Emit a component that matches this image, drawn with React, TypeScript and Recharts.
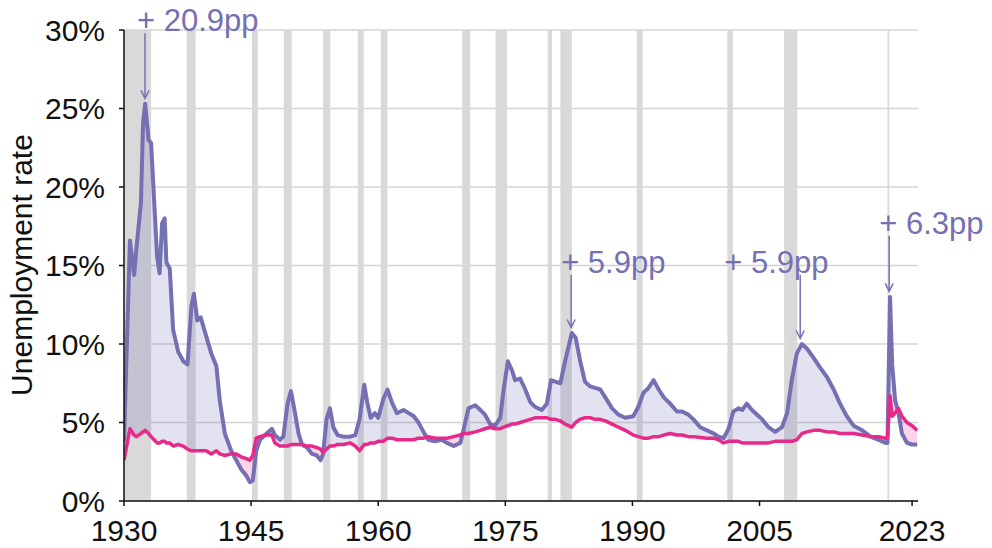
import {
  Area,
  CartesianGrid,
  ComposedChart,
  Line,
  ReferenceArea,
  ReferenceLine,
  XAxis,
  YAxis,
} from "recharts";

// quarterly-ish readings, decimal year
const YEARS = [
  1930.0, 1930.7, 1931.2, 1931.45, 1932.0, 1932.25, 1932.5, 1932.9, 1933.2, 1933.55,
  1933.9, 1934.2, 1934.5, 1934.8, 1935.0, 1935.4, 1935.8, 1936.4, 1937.0, 1937.5,
  1937.95, 1938.25, 1938.65, 1939.05, 1939.7, 1940.3, 1940.9, 1941.3, 1941.9, 1942.65,
  1943.25, 1943.85, 1944.45, 1944.85, 1945.2, 1945.6, 1946.05, 1946.65, 1947.45, 1947.8,
  1948.4, 1948.8, 1949.3, 1949.7, 1950.05, 1950.6, 1951.0, 1951.6, 1952.2, 1952.75,
  1953.2, 1953.5, 1953.9, 1954.3, 1954.7, 1955.2, 1955.9, 1956.7, 1957.3, 1957.8,
  1958.35, 1958.7, 1959.1, 1959.6, 1960.0, 1960.6, 1961.1, 1961.6, 1962.2, 1963.0,
  1963.6, 1964.2, 1964.75, 1965.35, 1965.9, 1966.7, 1967.5, 1968.1, 1968.9, 1969.7,
  1970.05, 1970.65, 1971.45, 1972.05, 1972.6, 1973.2, 1973.8, 1974.4, 1974.8, 1975.3,
  1975.8, 1976.15, 1976.75, 1977.35, 1977.95, 1978.5, 1979.3, 1979.9, 1980.4, 1980.9,
  1981.5, 1982.05, 1982.85, 1983.3, 1983.8, 1984.4, 1985.0, 1985.6, 1986.2, 1986.8,
  1987.6, 1988.35, 1989.15, 1990.1, 1990.7, 1991.3, 1991.9, 1992.5, 1993.1, 1993.7,
  1994.45, 1995.25, 1995.85, 1996.6, 1997.2, 1998.0, 1998.8, 1999.6, 2000.15, 2000.75,
  2001.35, 2001.9, 2002.5, 2002.95, 2003.5, 2004.1, 2004.9, 2005.3, 2006.05, 2006.85,
  2007.65, 2008.25, 2008.8, 2009.4, 2010.0, 2010.6, 2011.4, 2012.15, 2012.95, 2013.75,
  2014.5, 2015.3, 2016.1, 2017.1, 2018.1, 2019.05, 2019.85, 2020.1, 2020.4, 2020.65,
  2021.0, 2021.4, 2021.8, 2022.4, 2023.0, 2023.6,
];

const UNEMP = [
  3.8, 16.6, 14.4, 16.0, 19.0, 24.1, 25.3, 23.0, 22.8, 19.2,
  15.6, 14.5, 17.7, 18.0, 15.2, 14.8, 10.9, 9.5, 8.9, 8.7,
  12.4, 13.2, 11.5, 11.7, 10.5, 9.4, 8.6, 6.4, 4.3, 3.2,
  2.6, 2.0, 1.6, 1.2, 1.3, 3.2, 3.9, 4.2, 4.6, 4.2,
  3.9, 4.1, 6.2, 7.0, 6.0, 4.3, 3.6, 3.4, 3.0, 2.9,
  2.6, 3.0, 5.2, 5.9, 4.7, 4.2, 4.1, 4.1, 4.2, 5.2,
  7.4, 6.3, 5.3, 5.6, 5.3, 6.5, 7.1, 6.3, 5.6, 5.8,
  5.6, 5.4, 5.0, 4.4, 3.9, 3.8, 3.9, 3.7, 3.5, 3.7,
  4.5, 5.9, 6.1, 5.8, 5.5, 4.9, 4.8, 5.3, 7.1, 8.9,
  8.3, 7.7, 7.8, 7.1, 6.3, 6.0, 5.8, 6.2, 7.7, 7.6,
  7.5, 8.9, 10.7, 10.4, 9.0, 7.6, 7.3, 7.2, 7.1, 6.6,
  5.9, 5.5, 5.3, 5.4, 6.0, 6.9, 7.2, 7.7, 7.1, 6.6,
  6.2, 5.7, 5.7, 5.5, 5.2, 4.7, 4.5, 4.3, 4.1, 4.0,
  4.6, 5.7, 5.9, 5.8, 6.2, 5.8, 5.4, 5.2, 4.7, 4.4,
  4.7, 5.6, 7.7, 9.4, 10.0, 9.7, 9.1, 8.5, 7.9, 7.1,
  6.2, 5.4, 4.8, 4.5, 4.1, 3.9, 3.7, 3.7, 13.0, 8.7,
  6.4, 5.6, 4.3, 3.7, 3.6, 3.6,
];

const NATURAL = [
  2.6, 4.6, 4.2, 4.1, 4.3, 4.4, 4.5, 4.3, 4.1, 3.9,
  3.7, 3.7, 3.8, 3.8, 3.7, 3.7, 3.5, 3.6, 3.5, 3.3,
  3.2, 3.2, 3.2, 3.2, 3.2, 3.0, 3.2, 3.0, 2.9, 3.0,
  3.0, 2.8, 2.7, 2.6, 2.9, 4.0, 4.1, 4.2, 4.2, 3.7,
  3.5, 3.5, 3.5, 3.6, 3.6, 3.6, 3.6, 3.5, 3.5, 3.4,
  3.3, 3.1, 3.3, 3.5, 3.5, 3.6, 3.6, 3.7, 3.5, 3.2,
  3.6, 3.6, 3.7, 3.7, 3.8, 3.8, 4.0, 4.0, 3.9, 3.9,
  3.9, 3.9, 4.0, 4.0, 4.1, 4.0, 4.0, 4.0, 4.1, 4.2,
  4.3, 4.3, 4.4, 4.5, 4.6, 4.7, 4.6, 4.6, 4.7, 4.8,
  4.9, 4.9, 5.0, 5.1, 5.2, 5.3, 5.3, 5.3, 5.2, 5.2,
  5.1, 4.9, 4.7, 5.0, 5.2, 5.3, 5.3, 5.2, 5.2, 5.1,
  4.9, 4.7, 4.5, 4.2, 4.1, 4.0, 4.0, 4.1, 4.1, 4.2,
  4.3, 4.2, 4.2, 4.1, 4.1, 4.05, 4.0, 4.0, 3.9, 3.7,
  3.8, 3.8, 3.8, 3.7, 3.7, 3.7, 3.7, 3.7, 3.7, 3.8,
  3.8, 3.8, 3.8, 3.9, 4.3, 4.4, 4.5, 4.5, 4.4, 4.4,
  4.3, 4.3, 4.3, 4.2, 4.1, 4.1, 4.0, 4.0, 6.7, 5.4,
  5.6, 5.9, 5.4, 5.0, 4.8, 4.5,
];

const RECESSION_START = [
  1929.67, 1937.4, 1945.1, 1948.85, 1953.5, 1957.6, 1960.3, 1969.9, 1973.85,
  1980.0, 1981.5, 1990.5, 2001.2, 2007.9, 2020.1,
];
const RECESSION_END = [
  1933.2, 1938.45, 1945.8, 1949.8, 1954.35, 1958.3, 1961.1, 1970.85, 1975.2,
  1980.5, 1982.85, 1991.2, 2001.85, 2009.45, 2020.3,
];

const X_TICKS = [1930, 1945, 1960, 1975, 1990, 2005, 2023];
const Y_TICKS = [0, 5, 10, 15, 20, 25, 30];

const ANNO_YEARS = [1932.48, 1982.77, 2009.8, 2020.3];
const ANNO_PEAKS = [25.3, 10.7, 10.0, 13.0];
const ANNO_TOPS = [29.8, 14.4, 14.4, 16.9];
const ANNO_LABELS = ["+ 20.9pp", "+ 5.9pp", "+ 5.9pp", "+ 6.3pp"];
// horizontal shift of each label relative to its arrow, px
const ANNO_DX = [-8, -10, -76, -10];

const PURPLE = "#7570b3";
const PINK = "#e7298a";
const FONT = "'Liberation Sans', Arial, Helvetica, sans-serif";

const data = YEARS.map((year, i) => {
  const u = UNEMP[i];
  const n = NATURAL[i];
  return {
    year,
    u,
    n,
    above: [n, Math.max(u, n)],
    below: [Math.min(u, n), n],
  };
});

function arrowShape(label: string, dx: number) {
  return (props: any) => {
    const { x1, y1, y2 } = props;
    if (x1 == null || y1 == null || y2 == null) return <g />;
    const tip = Math.max(y1, y2);
    const top = Math.min(y1, y2);
    return (
      <g>
        <line x1={x1} y1={top} x2={x1} y2={tip} stroke={PURPLE} strokeWidth={1.5} />
        <polyline
          points={`${x1 - 4},${tip - 8} ${x1},${tip} ${x1 + 4},${tip - 8}`}
          fill="none"
          stroke={PURPLE}
          strokeWidth={1.5}
        />
        <text
          x={x1 + dx}
          y={top - 2}
          fill={PURPLE}
          fontSize={31}
          fontFamily={FONT}
        >
          {label}
        </text>
      </g>
    );
  };
}

export default function App() {
  const tick = { fill: "#111", fontSize: 30, fontFamily: FONT };
  return (
    <div style={{ width: 992, height: 548, background: "#fff" }}>
      <style>{`body{margin:0;}`}</style>
      <ComposedChart
        width={992}
        height={548}
        data={data}
        margin={{ top: 30, right: 74, bottom: 0, left: 0 }}
      >
        {RECESSION_START.map((s, i) => (
          <ReferenceArea
            key={`rec-${i}`}
            x1={s}
            x2={RECESSION_END[i]}
            y1={0}
            y2={30}
            fill="#d9d9d9"
            fillOpacity={1}
            stroke="none"
            ifOverflow="hidden"
          />
        ))}
        <CartesianGrid vertical={false} stroke="#d4d4d4" strokeWidth={1.5} />
        <XAxis
          dataKey="year"
          type="number"
          domain={[1930, 2023.7]}
          ticks={X_TICKS}
          allowDataOverflow
          height={47}
          tick={tick}
          tickSize={5}
          tickMargin={14}
          tickLine={{ stroke: "#111", strokeWidth: 1.5 }}
          axisLine={{ stroke: "#111", strokeWidth: 1.5 }}
        />
        <YAxis
          type="number"
          domain={[0, 30]}
          ticks={Y_TICKS}
          width={124}
          tick={tick}
          tickSize={5}
          tickMargin={14}
          tickLine={{ stroke: "#111", strokeWidth: 1.5 }}
          axisLine={{ stroke: "#111", strokeWidth: 1.5 }}
          tickFormatter={(v: number) => `${v}%`}
          label={{
            content: () => (
              <text
                transform="translate(32,265) rotate(-90)"
                textAnchor="middle"
                fill="#111"
                fontSize={30}
                fontFamily={FONT}
              >
                Unemployment rate
              </text>
            ),
          }}
        />
        <Area
          type="linear"
          dataKey="above"
          stroke="none"
          fill={PURPLE}
          fillOpacity={0.2}
          isAnimationActive={false}
        />
        <Area
          type="linear"
          dataKey="below"
          stroke="none"
          fill={PINK}
          fillOpacity={0.2}
          isAnimationActive={false}
        />
        <Line
          type="linear"
          dataKey="u"
          stroke={PURPLE}
          strokeWidth={4}
          strokeLinejoin="round"
          dot={false}
          activeDot={false}
          isAnimationActive={false}
        />
        <Line
          type="linear"
          dataKey="n"
          stroke={PINK}
          strokeWidth={3.5}
          strokeLinejoin="round"
          dot={false}
          activeDot={false}
          isAnimationActive={false}
        />
        {ANNO_YEARS.map((yr, i) => (
          <ReferenceLine
            key={`anno-${i}`}
            segment={[
              { x: yr, y: ANNO_TOPS[i] },
              { x: yr, y: ANNO_PEAKS[i] + 0.35 },
            ]}
            ifOverflow="visible"
            shape={arrowShape(ANNO_LABELS[i], ANNO_DX[i])}
          />
        ))}
      </ComposedChart>
    </div>
  );
}
